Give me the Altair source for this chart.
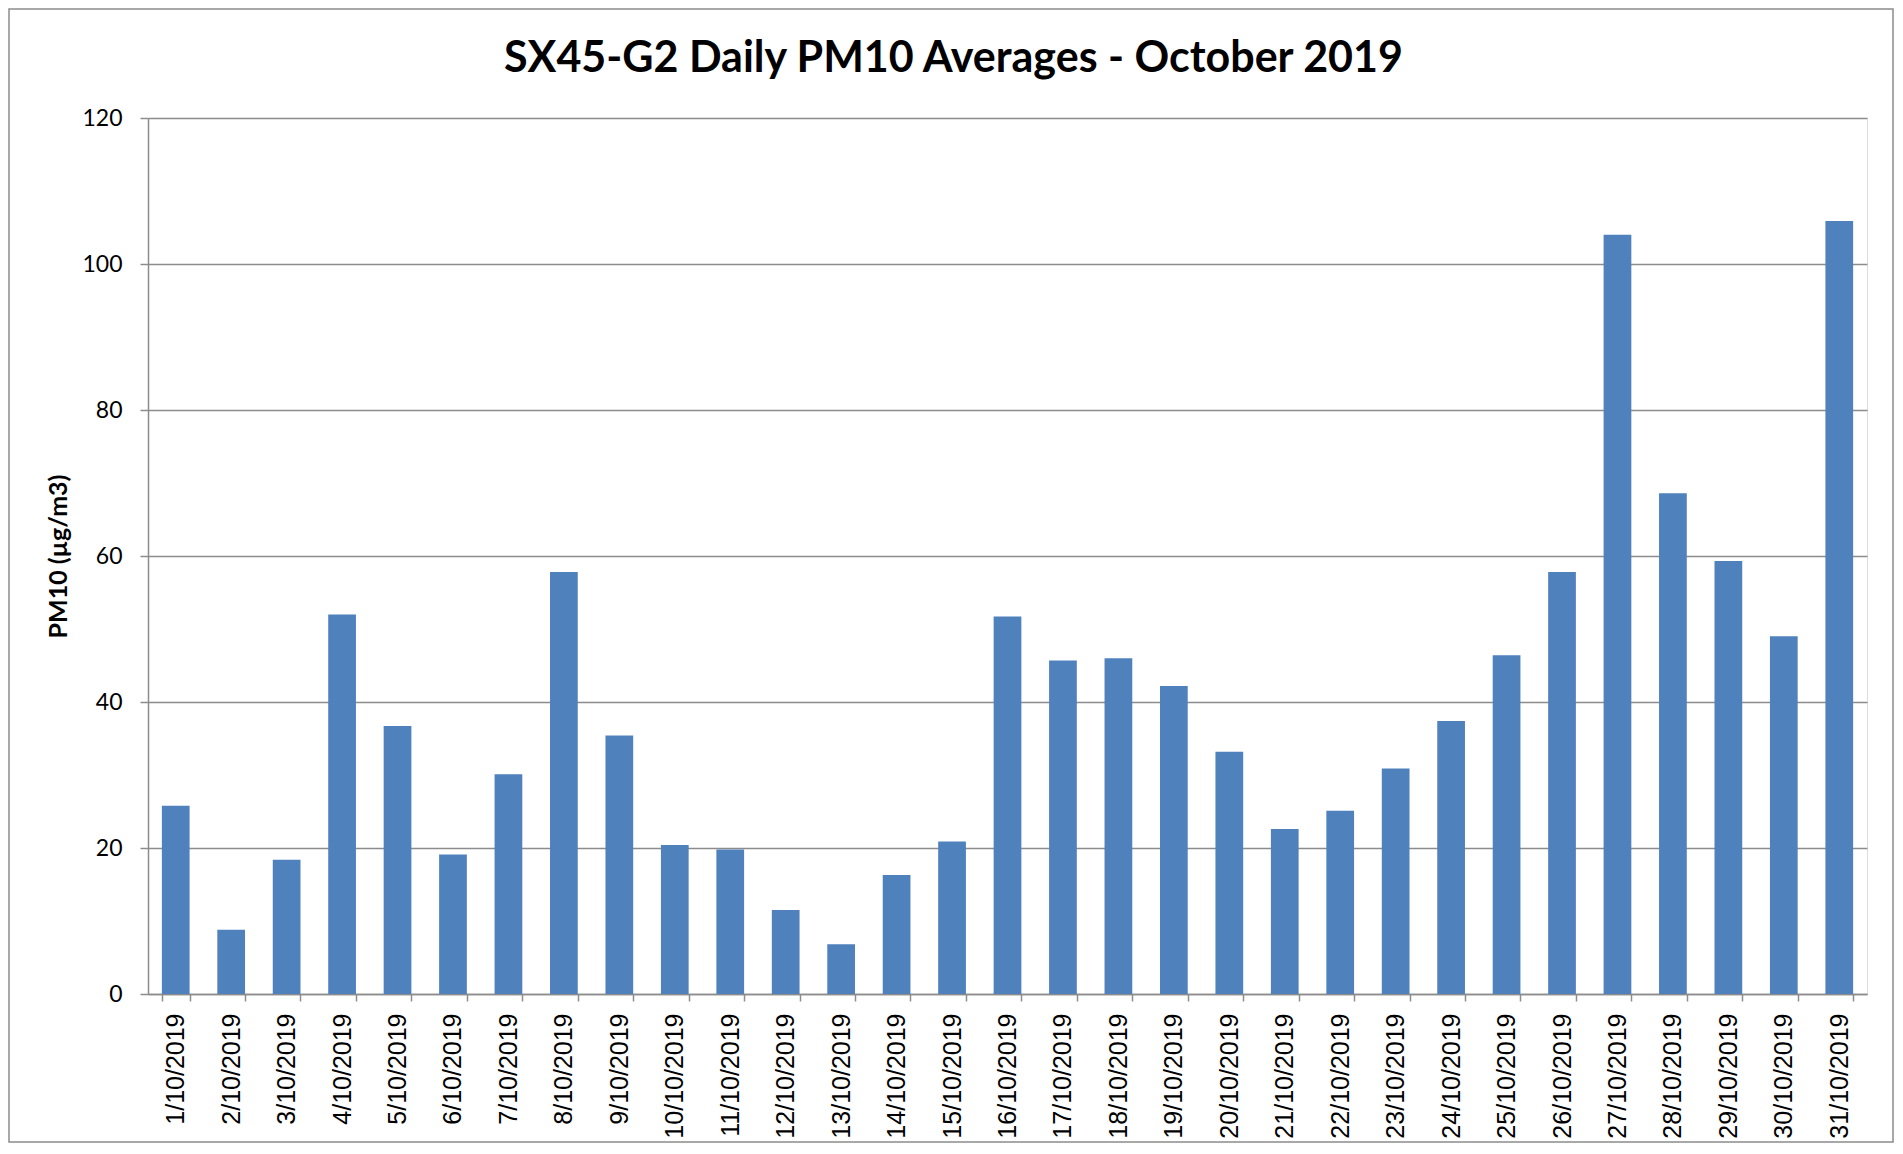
import altair as alt
import pandas as pd

dates = [
    "1/10/2019", "2/10/2019", "3/10/2019", "4/10/2019", "5/10/2019",
    "6/10/2019", "7/10/2019", "8/10/2019", "9/10/2019", "10/10/2019",
    "11/10/2019", "12/10/2019", "13/10/2019", "14/10/2019", "15/10/2019",
    "16/10/2019", "17/10/2019", "18/10/2019", "19/10/2019", "20/10/2019",
    "21/10/2019", "22/10/2019", "23/10/2019", "24/10/2019", "25/10/2019",
    "26/10/2019", "27/10/2019", "28/10/2019", "29/10/2019", "30/10/2019",
    "31/10/2019",
]
pm10 = [
    25.8, 8.8, 18.4, 52.0, 36.7, 19.1, 30.1, 57.8, 35.4, 20.4,
    19.8, 11.5, 6.8, 16.3, 20.9, 51.7, 45.7, 46.0, 42.2, 33.2,
    22.6, 25.1, 30.9, 37.4, 46.4, 57.8, 104.0, 68.6, 59.3, 49.0,
    105.9,
]
y_ticks = [0, 20, 40, 60, 80, 100, 120]

df = pd.DataFrame({"date": dates, "pm10": pm10})

GRAY = "#8c8c8c"
W, H = 1719, 876

bars = alt.Chart(df).mark_bar(color="#4F81BD").encode(
    x=alt.X(
        "date:N",
        sort=dates,
        scale=alt.Scale(paddingInner=0.5, paddingOuter=0.25),
        axis=alt.Axis(
            title=None,
            labelAngle=-90,
            labelFont="Liberation Sans",
            labelFontSize=25,
            labelColor="black",
            labelPadding=12,
            tickSize=7,
            tickBand="extent",
            tickColor=GRAY,
            tickWidth=1.5,
            domainColor=GRAY,
            domainWidth=1.5,
            grid=False,
        ),
    ),
    y=alt.Y(
        "pm10:Q",
        scale=alt.Scale(domain=[0, 120]),
        axis=alt.Axis(
            title="PM10 (µg/m3)",
            values=y_ticks,
            labelFont="Lato",
            labelFontSize=23,
            labelColor="black",
            labelPadding=18,
            tickSize=8,
            tickColor=GRAY,
            tickWidth=1.5,
            domainColor=GRAY,
            domainWidth=1.5,
            gridColor=GRAY,
            gridWidth=1.5,
            titleFont="Lato",
            titleFontSize=25,
            titleFontWeight="bold",
            titleColor="black",
            titlePadding=10,
        ),
    ),
)

frame = alt.Chart(pd.DataFrame({"k": [0]})).mark_rect(
    filled=False, stroke=GRAY, strokeWidth=1.5
).encode(
    x=alt.value(-139),
    x2=alt.value(1745),
    y=alt.value(-109),
    y2=alt.value(1024),
)

chart = alt.layer(frame, bars).properties(
    width=W,
    height=H,
    padding=0,
    title=alt.TitleParams(
        text="SX45-G2 Daily PM10 Averages - October 2019",
        font="Lato",
        fontSize=43,
        fontWeight="bold",
        color="black",
        anchor="middle",
        offset=-73,
        dx=-54,
    ),
).configure_view(stroke=None).configure(background="white")

chart.save("out.html", embed_options={"renderer": "svg", "actions": False})
